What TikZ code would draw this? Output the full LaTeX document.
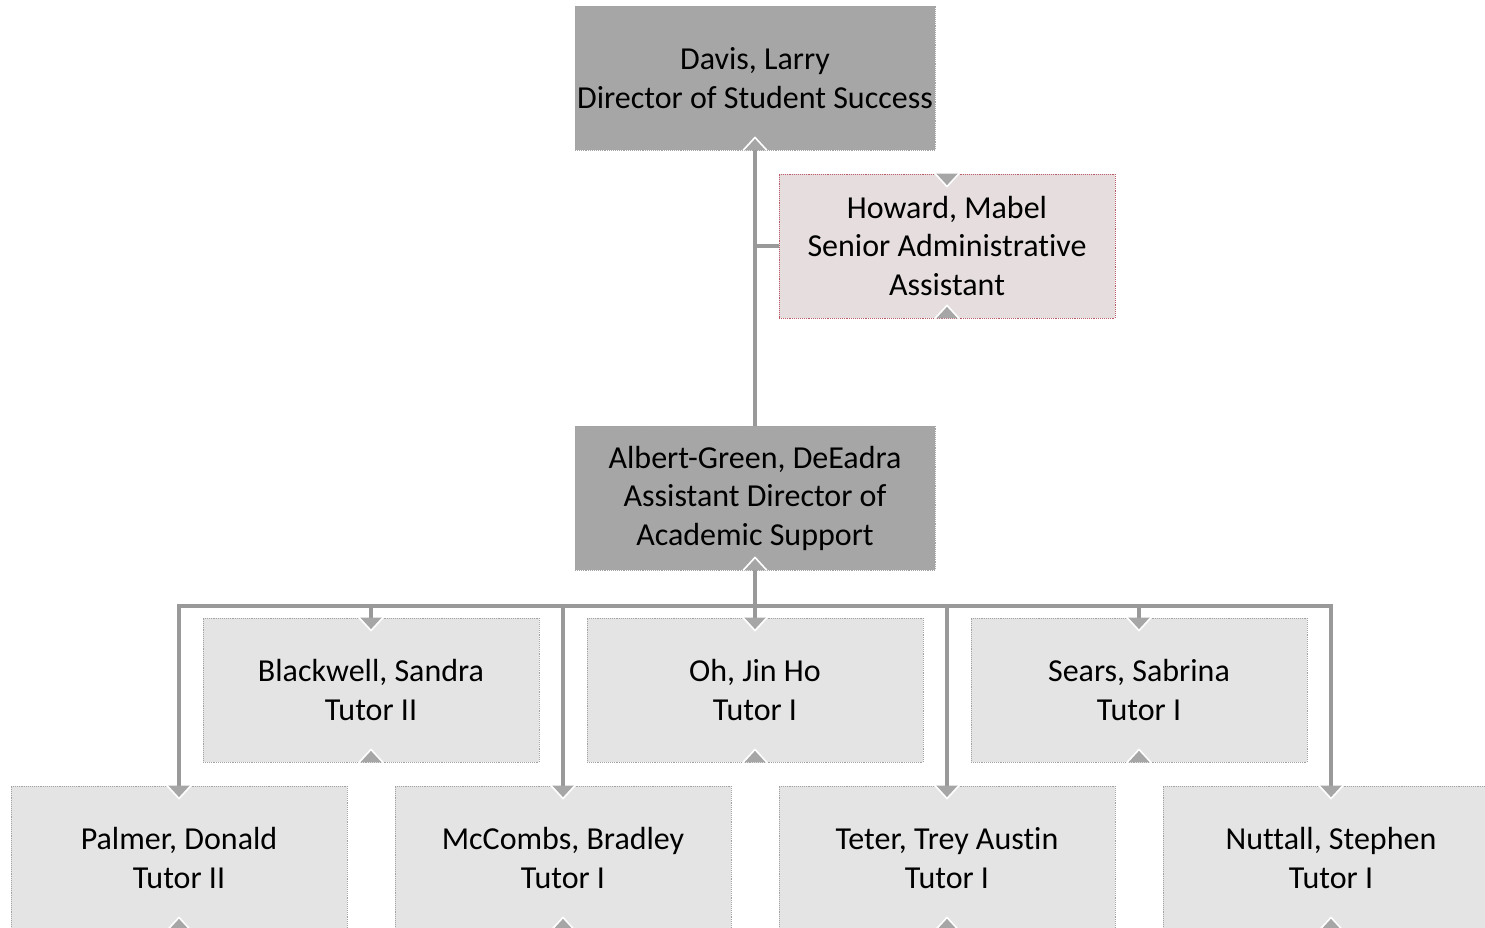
\documentclass[tikz,border=0pt]{standalone}
\usepackage{fontspec}
\setmainfont{Carlito}[Ligatures=NoCommon]
\usetikzlibrary{calc}

\definecolor{boxdark}{HTML}{A6A6A6}
\definecolor{boxlight}{HTML}{E4E4E4}
\definecolor{boxpink}{HTML}{E6DEDE}
\definecolor{rimgray}{HTML}{A3A3A3}
\definecolor{rimred}{HTML}{BC5A66}
\definecolor{linegray}{HTML}{999999}

\tikzset{
 unit/.style={draw=rimgray, densely dotted, line width=0.9pt, minimum width=336pt,
  minimum height=144pt, inner sep=0pt, align=center, font=\fontsize{32}{38.5}\selectfont},
 head/.style={unit, fill=boxdark, minimum width=360pt},
 staff/.style={unit, fill=boxlight},
 aide/.style={unit, fill=boxpink, draw=rimred},
 link/.style={draw=linegray, line width=4pt},
 notch/.style={fill=boxdark, draw=white, line width=1.6pt}
}

\newcommand{\topnotch}[1]{\filldraw[notch] ($(#1.north)+(-12,0)$) -- ($(#1.north)+(0,13)$) -- ($(#1.north)+(12,0)$);}
\newcommand{\botnotch}[1]{\filldraw[notch] ($(#1.south)+(-12,0)$) -- ($(#1.south)+(0,-13)$) -- ($(#1.south)+(12,0)$);}

\begin{document}
\begin{tikzpicture}[x=1pt,y=-1pt]
 \useasboundingbox (0,0) rectangle (1485,928);

 \node[head] (davis) at (755,78) {Davis, Larry\\Director of Student Success};

 \node[aide] (howard) at (947,246) {Howard, Mabel\\Senior Administrative\\Assistant};

 \node[head] (albert) at (755,498) {Albert-Green, DeEadra\\Assistant Director of\\Academic Support};

 \node[staff] (blackwell) at (371,690) {Blackwell, Sandra\\Tutor II};

 \node[staff] (oh) at (755,690) {Oh, Jin Ho\\Tutor I};

 \node[staff] (sears) at (1139,690) {Sears, Sabrina\\Tutor I};

 \node[staff] (palmer) at (179,858) {Palmer, Donald\\Tutor II};

 \node[staff] (mccombs) at (563,858) {McCombs, Bradley\\Tutor I};

 \node[staff] (teter) at (947,858) {Teter, Trey Austin\\Tutor I};

 \node[staff] (nuttall) at (1331,858) {Nuttall, Stephen\\Tutor I};

 \coordinate (bus) at (755,606);

 \draw[link] (davis) -- (albert);
 \draw[link] (howard.west) -- (howard.west -| davis.south);
 \draw[link] (albert) -- (bus);
 \draw[link] (bus) -| (palmer);
 \draw[link] (bus) -| (blackwell);
 \draw[link] (bus) -| (mccombs);
 \draw[link] (bus) -- (oh);
 \draw[link] (bus) -| (teter);
 \draw[link] (bus) -| (sears);
 \draw[link] (bus) -| (nuttall);

 % notches on the boxes
 \botnotch{davis}
 \topnotch{howard}
 \botnotch{howard}
 \botnotch{albert}
 \topnotch{blackwell}
 \botnotch{blackwell}
 \topnotch{oh}
 \botnotch{oh}
 \topnotch{sears}
 \botnotch{sears}
 \topnotch{palmer}
 \botnotch{palmer}
 \topnotch{mccombs}
 \botnotch{mccombs}
 \topnotch{teter}
 \botnotch{teter}
 \topnotch{nuttall}
 \botnotch{nuttall}

\end{tikzpicture}
\end{document}
